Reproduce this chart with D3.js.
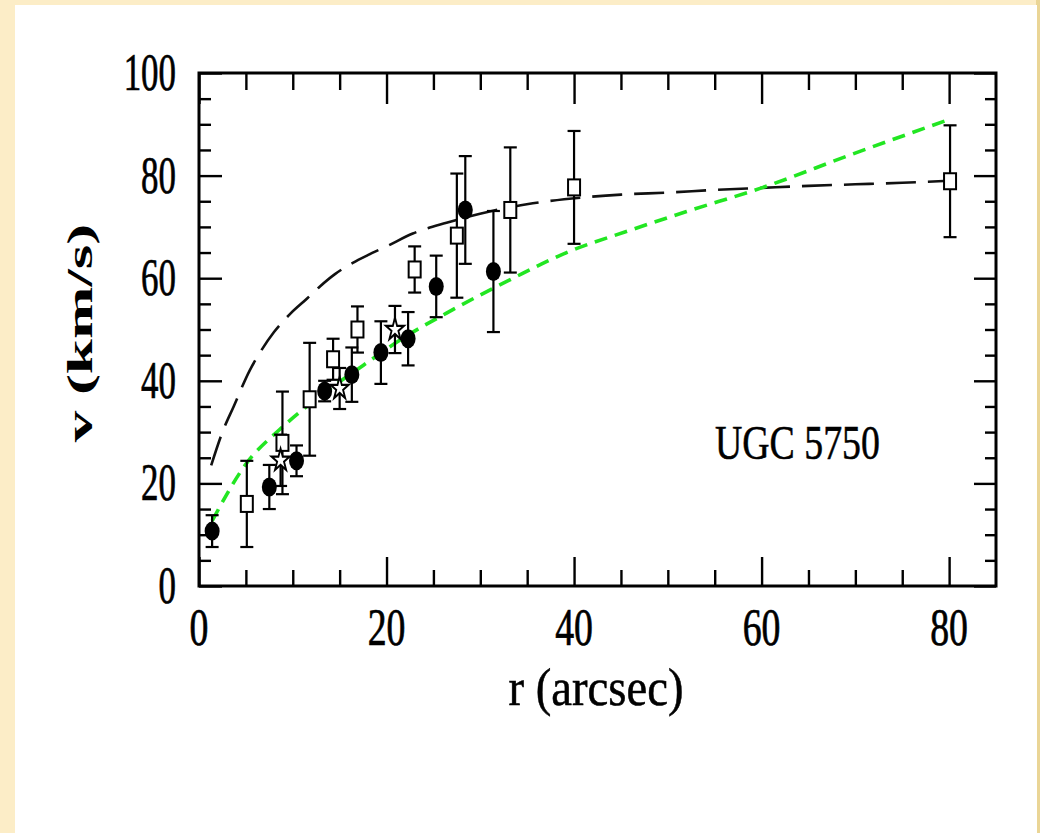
<!DOCTYPE html>
<html>
<head>
<meta charset="utf-8">
<script src="https://cdn.jsdelivr.net/npm/d3@7/dist/d3.min.js"></script>
<style>
  html, body { margin: 0; padding: 0; background: #fcedc7; }
  svg { display: block; }
  text { font-family: "Liberation Serif", "DejaVu Serif", serif; fill: #000; }
</style>
</head>
<body>
<svg id="chart" width="1040" height="833"></svg>
<script>
// Rotation curve of UGC 5750: radius (arcsec) vs velocity (km/s)

// Filled circles: [r, v, error]
const circlePts = [
  [1.4, 10.7, 3.1],
  [7.5, 19.3, 4.3],
  [10.4, 24.4, 3.0],
  [13.4, 38.0, 2.0],
  [16.3, 41.2, 5.3],
  [19.4, 45.5, 6.1],
  [22.3, 48.2, 5.2],
  [25.3, 58.4, 6.0],
  [28.4, 73.3, 10.5],
  [31.4, 61.3, 11.8]
];

// Open squares: [r, v, error]
const squarePts = [
  [5.1, 16.0, 8.4],
  [8.9, 27.9, 10.0],
  [11.8, 36.4, 11.0],
  [14.3, 44.2, 4.0],
  [16.9, 50.0, 4.5],
  [23.0, 61.7, 4.5],
  [27.5, 68.3, 12.1],
  [33.2, 73.3, 12.2],
  [40.0, 77.7, 11.0],
  [80.1, 78.9, 10.9]
];

// Open stars: [r, v, error]
const starPts = [
  [8.7, 24.5, 5.0],
  [15.0, 38.5, 4.0],
  [20.9, 50.0, 4.6]
];

// Model curves: [r, v]
const modelBlack = [
  [1.3, 23.5], [2.5, 30], [3.7, 35], [5.4, 42], [6.5, 45.5], [8, 49.5],
  [9.7, 53], [11.5, 56], [12.9, 58.4], [14.5, 60.8], [16.4, 63], [18, 64.5],
  [20, 66.2], [22.8, 68.7], [26.4, 70.8], [31, 73], [35.6, 74.6], [41.3, 75.8],
  [45, 76.3], [50, 76.7], [55, 77.2], [60, 77.6], [65, 78], [70, 78.3],
  [75, 78.6], [80, 79]
];
const modelGreen = [
  [1.4, 12.7], [5.1, 24], [8.6, 30.5], [11.5, 35], [14, 38.5], [17.5, 43],
  [22.1, 48.7], [26.4, 53.2], [33.5, 60], [39.2, 65], [45.9, 69.3], [52, 73],
  [60, 77.6], [69.4, 84], [80.1, 91]
];

const xMajor = [0, 20, 40, 60, 80];
const xMinor = d3.range(5, 85, 5).filter(d => d % 20 !== 0);
const yMajor = [0, 20, 40, 60, 80, 100];
const yMinor = d3.range(5, 100, 5).filter(d => d % 20 !== 0);

const svg = d3.select("#chart");

// page panel
svg.append("rect").attr("x", 0).attr("y", 0).attr("width", 1040).attr("height", 833).attr("fill", "#fcedc7");
svg.append("rect").attr("x", 1036).attr("y", 0).attr("width", 4).attr("height", 833).attr("fill", "#ead596");
svg.append("rect").attr("x", 15).attr("y", 5).attr("width", 1022).attr("height", 828).attr("fill", "#ffffff");

const L = 199, R = 996, T = 73, B = 586;
const x = d3.scaleLinear().domain([0, 85]).range([L, R]);
const y = d3.scaleLinear().domain([0, 100]).range([B, T]);

// ticks on all four sides, pointing inward
function tickAxis(axisFn, scale, vals, len, tx, ty) {
  const g = svg.append("g").attr("transform", `translate(${tx},${ty})`)
    .call(axisFn(scale).tickValues(vals).tickSize(len).tickFormat(""));
  g.select(".domain").remove();
  g.selectAll(".tick line").attr("stroke", "#000").attr("stroke-width", 2.4);
}
tickAxis(d3.axisBottom, x, xMajor, -29, 0, B);
tickAxis(d3.axisBottom, x, xMinor, -16, 0, B);
tickAxis(d3.axisTop, x, xMajor, -31, 0, T);
tickAxis(d3.axisTop, x, xMinor, -17, 0, T);
tickAxis(d3.axisLeft, y, yMajor, -23, L, 0);
tickAxis(d3.axisLeft, y, yMinor, -12, L, 0);
tickAxis(d3.axisRight, y, yMajor, -22, R, 0);
tickAxis(d3.axisRight, y, yMinor, -11, R, 0);

svg.append("rect").attr("x", L).attr("y", T).attr("width", R - L).attr("height", B - T)
  .attr("fill", "none").attr("stroke", "#000").attr("stroke-width", 3);

// tick labels (tall, narrow serif)
svg.append("g").selectAll("text").data(xMajor).join("text")
  .attr("text-anchor", "middle").attr("font-size", 36)
  .attr("stroke", "#000").attr("stroke-width", 0.5)
  .attr("transform", d => `translate(${x(d)},645) scale(1.05,1.45)`)
  .text(d => d);
svg.append("g").selectAll("text").data(yMajor).join("text")
  .attr("text-anchor", "end").attr("font-size", 36)
  .attr("stroke", "#000").attr("stroke-width", 0.5)
  .attr("transform", d => `translate(176,${y(d) + 17}) scale(0.97,1.45)`)
  .text(d => d);

// axis titles
svg.append("text").attr("text-anchor", "middle").attr("font-size", 38)
  .attr("stroke", "#000").attr("stroke-width", 0.4)
  .attr("transform", "translate(596,705) scale(1.23,1.38)")
  .text("r (arcsec)");
svg.append("text").attr("text-anchor", "middle").attr("font-size", 36).attr("font-weight", "bold")
  .attr("transform", "translate(92,333) rotate(-90) scale(1.75,1)")
  .text("v (km/s)");
svg.append("text").attr("font-size", 35)
  .attr("stroke", "#000").attr("stroke-width", 0.4)
  .attr("transform", "translate(715,459) scale(1.08,1.38)")
  .text("UGC 5750");

// model curves
const line = d3.line().x(d => x(d[0])).y(d => y(d[1])).curve(d3.curveMonotoneX);
svg.append("path").datum(modelBlack).attr("d", line)
  .attr("fill", "none").attr("stroke", "#111").attr("stroke-width", 2.6)
  .attr("stroke-dasharray", "30,12");
svg.append("path").datum(modelGreen).attr("d", line)
  .attr("fill", "none").attr("stroke", "#22e622").attr("stroke-width", 3.6)
  .attr("stroke-dasharray", "13,8");

// error bars
const allPts = circlePts.concat(squarePts, starPts);
const eb = svg.append("g").attr("stroke", "#000").attr("stroke-width", 2.2);
allPts.forEach(([r, v, e]) => {
  const cx = x(r);
  eb.append("line").attr("x1", cx).attr("x2", cx).attr("y1", y(v - e)).attr("y2", y(v + e));
  eb.append("line").attr("x1", cx - 6.5).attr("x2", cx + 6.5).attr("y1", y(v - e)).attr("y2", y(v - e));
  eb.append("line").attr("x1", cx - 6.5).attr("x2", cx + 6.5).attr("y1", y(v + e)).attr("y2", y(v + e));
});

// markers
svg.append("g").selectAll("rect").data(squarePts).join("rect")
  .attr("x", d => x(d[0]) - 6).attr("y", d => y(d[1]) - 8)
  .attr("width", 12).attr("height", 16)
  .attr("fill", "#fff").attr("stroke", "#000").attr("stroke-width", 2);
svg.append("g").selectAll("path").data(starPts).join("path")
  .attr("d", d3.symbol(d3.symbolStar, 100))
  .attr("transform", d => `translate(${x(d[0])},${y(d[1])}) scale(1,1.25)`)
  .attr("fill", "#fff").attr("stroke", "#000").attr("stroke-width", 1.8);
svg.append("g").selectAll("ellipse").data(circlePts).join("ellipse")
  .attr("cx", d => x(d[0])).attr("cy", d => y(d[1]))
  .attr("rx", 7.5).attr("ry", 9.5).attr("fill", "#000");
</script>
</body>
</html>
